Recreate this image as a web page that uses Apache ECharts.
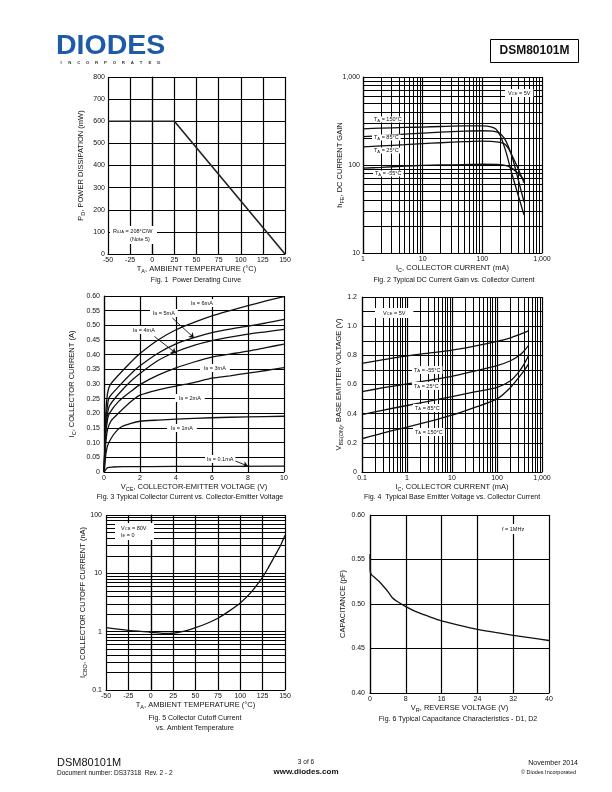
<!DOCTYPE html>
<html><head><meta charset="utf-8">
<script src="https://cdn.jsdelivr.net/npm/echarts@6/dist/echarts.min.js"></script>
<style>html,body{margin:0;padding:0;background:#fff}#c{width:612px;height:792px}</style>
</head><body><div id="c"></div>
<script>
// ---------------- DATA ----------------
// Fig. 1 Power derating
const fig1Temp = [-50, 25, 150];
const fig1Pd = [600, 600, 0];
// Fig. 2 hFE vs Ic  [Ic mA, hFE]
const hfe150 = [[1,258],[2,262],[5,267],[10,270],[20,274],[50,278],[100,278],[140,272],[170,255],[200,215],[250,140],[300,88],[400,45],[500,27]];
const hfe85 = [[1,210],[2,215],[5,224],[10,230],[20,236],[50,242],[100,245],[150,242],[190,232],[230,205],[270,165],[320,120],[400,68],[500,38]];
const hfe25 = [[1,161],[2,165],[5,170],[10,175],[20,179],[50,184],[100,187],[200,181],[240,172],[280,150],[330,120],[400,90],[500,63]];
const hfeM55 = [[1,92],[2,94],[5,97],[10,99],[20,100],[50,101],[100,102],[200,101],[260,98],[320,91],[400,80],[500,68]];
// Fig. 3 Ic vs Vce  [V, A]
const ib6 = [[0,0],[0.05,0.1],[0.1,0.2],[0.2,0.27],[0.35,0.298],[0.8,0.33],[1.5,0.375],[2,0.404],[3,0.45],[4,0.485],[5,0.51],[6,0.532],[7,0.55],[8,0.567],[9,0.583],[10,0.598]];
const ib5 = [[0,0],[0.05,0.09],[0.1,0.17],[0.2,0.23],[0.3,0.255],[0.8,0.29],[1.5,0.335],[2,0.362],[3,0.405],[4,0.437],[5,0.458],[6,0.475],[7,0.487],[8,0.497],[9,0.508],[10,0.52]];
const ib4 = [[0,0],[0.05,0.08],[0.1,0.15],[0.2,0.2],[0.3,0.225],[0.8,0.265],[1.5,0.31],[2,0.336],[3,0.38],[4,0.41],[5,0.432],[6,0.448],[7,0.46],[8,0.47],[9,0.478],[10,0.486]];
const ib3 = [[0,0],[0.05,0.07],[0.1,0.13],[0.2,0.18],[0.3,0.2],[0.8,0.24],[1.5,0.275],[2,0.298],[3,0.33],[4,0.355],[5,0.375],[6,0.392],[7,0.402],[8,0.412],[9,0.424],[10,0.436]];
const ib2 = [[0,0],[0.05,0.05],[0.1,0.1],[0.2,0.145],[0.4,0.175],[0.8,0.2],[1.5,0.24],[2,0.262],[3,0.28],[4,0.293],[5,0.305],[6,0.32],[7,0.328],[8,0.337],[9,0.346],[10,0.356]];
const ib1 = [[0,0],[0.05,0.03],[0.1,0.06],[0.2,0.09],[0.4,0.115],[0.7,0.14],[1,0.155],[1.5,0.166],[2,0.173],[3,0.177],[4,0.18],[6,0.185],[8,0.188],[10,0.19]];
const ib01 = [[0,0],[0.1,0.008],[0.2,0.015],[0.5,0.017],[1,0.018],[4,0.019],[10,0.02]];
const fig3Arrows = [[[3.8,0.525],[5,0.457]], [[2.8,0.462],[4,0.405]], [[7.2,0.04],[8,0.02]]];
// Fig. 4 Vbe(on) vs Ic  [mA, V]
const vbeM55 = [[0.1,0.745],[0.3,0.77],[1,0.797],[3,0.815],[10,0.836],[30,0.862],[100,0.895],[200,0.92],[300,0.94],[500,0.968]];
const vbe25 = [[0.1,0.551],[0.3,0.578],[1,0.604],[3,0.628],[10,0.656],[30,0.69],[100,0.729],[200,0.763],[300,0.795],[400,0.83],[500,0.866]];
const vbe85 = [[0.1,0.394],[0.3,0.425],[1,0.456],[3,0.485],[10,0.517],[30,0.548],[100,0.581],[200,0.626],[300,0.683],[400,0.74],[500,0.797]];
const vbe150 = [[0.1,0.228],[0.3,0.268],[1,0.307],[3,0.345],[10,0.39],[30,0.44],[100,0.501],[200,0.58],[300,0.645],[400,0.695],[500,0.74]];
// Fig. 5 Icbo vs Ta  [degC, nA]
const icbo = [[-50,1.17],[-25,1.05],[0,0.975],[15,0.93],[25,0.94],[37.5,1.02],[50,1.17],[62.5,1.38],[75,1.7],[87.5,2.25],[100,3.1],[112.5,4.8],[125,8.6],[130,11.5],[137.5,18.5],[145,30],[150,45]];
// Fig. 6 Capacitance vs Vr  [V, pF]
const cap = [[0,0.556],[0.02,0.545],[0.05,0.537],[0.3,0.533],[1,0.53],[2,0.5255],[3,0.52],[4,0.514],[5,0.507],[6,0.503],[8,0.497],[10,0.492],[12,0.488],[14,0.4845],[16,0.481],[20,0.476],[24,0.4715],[28,0.468],[32,0.4648],[36,0.462],[40,0.459]];

// ---------------- STYLE ----------------
const F = '"Liberation Sans", Arial, Helvetica, sans-serif';
const C = '#111';
const grids = [
  {left:108, top:77, width:177, height:177},
  {left:363, top:77, width:179, height:176},
  {left:104, top:296, width:180, height:176},
  {left:362, top:297, width:180, height:175},
  {left:106, top:515, width:179, height:175},
  {left:370, top:515, width:179, height:178}
];
const gl = {show:true, lineStyle:{color:'#000', width:1.2}};
const subRich = {s:{fontSize:5.5, fontFamily:F, color:C, padding:[4,0,0,0]}};
function nameSt(){ return {fontSize:7.5, color:C, fontFamily:F, rich:subRich}; }
function logFmt(v){ const r = +(+v).toPrecision(4); return r >= 1000 ? '1,000' : String(r); }
function ax(o){
  return Object.assign({
    axisLine:{show:true, lineStyle:{color:'#000', width:1.2}},
    axisTick:{show:false},
    splitLine:gl,
    axisLabel:{fontSize:7, color:C, fontFamily:F, margin:3},
    nameLocation:'middle', nameMoveOverlap:false, nameTextStyle:nameSt()
  }, o);
}
function logAx(o){
  return ax(Object.assign({type:'log', logBase:10, minorTick:{show:false, splitNumber:9}, minorSplitLine:{show:true, lineStyle:{color:'#000', width:1}}}, o));
}
const xAxis = [
  ax({gridIndex:0, type:'value', min:-50, max:150, interval:25, name:'T{s|A}, AMBIENT TEMPERATURE (°C)', nameGap:10}),
  logAx({gridIndex:1, min:1, max:1000, axisLabel:{fontSize:7, color:C, fontFamily:F, margin:3, formatter:logFmt}, name:'I{s|C}, COLLECTOR CURRENT (mA)', nameGap:10}),
  ax({gridIndex:2, type:'value', min:0, max:10, interval:2, name:'V{s|CE}, COLLECTOR-EMITTER VOLTAGE (V)', nameGap:10}),
  logAx({gridIndex:3, min:0.1, max:1000, axisLabel:{fontSize:7, color:C, fontFamily:F, margin:3, formatter:logFmt}, name:'I{s|C}, COLLECTOR CURRENT (mA)', nameGap:10}),
  ax({gridIndex:4, type:'value', min:-50, max:150, interval:25, name:'T{s|A}, AMBIENT TEMPERATURE (°C)', nameGap:10}),
  ax({gridIndex:5, type:'value', min:0, max:40, interval:8, name:'V{s|R}, REVERSE VOLTAGE (V)', nameGap:10})
];
const yAxis = [
  ax({gridIndex:0, type:'value', min:0, max:800, interval:100, name:'P{s|D}, POWER DISSIPATION (mW)', nameGap:22}),
  logAx({gridIndex:1, min:10, max:1000, axisLabel:{fontSize:7, color:C, fontFamily:F, margin:3, formatter:logFmt}, name:'h{s|FE}, DC CURRENT GAIN', nameGap:18}),
  ax({gridIndex:2, type:'value', min:0, max:0.6, interval:0.05, axisLabel:{fontSize:7, color:C, fontFamily:F, margin:4, formatter:v=>v===0?'0':v.toFixed(2)}, name:'I{s|C}, COLLECTOR CURRENT (A)', nameGap:27}),
  ax({gridIndex:3, type:'value', min:0, max:1.2, interval:0.1, axisLabel:{fontSize:7, color:C, fontFamily:F, margin:5, formatter:v=>{const k=Math.round(v*10); return k%2? '' : (k===0?'0':(k/10).toFixed(1));}}, name:'V{s|BE(ON)}, BASE EMITTER VOLTAGE (V)', nameGap:18}),
  logAx({gridIndex:4, min:0.1, max:100, axisLabel:{fontSize:7, color:C, fontFamily:F, margin:4, formatter:logFmt}, name:'I{s|CBO}, COLLECTOR CUTOFF CURRENT (nA)', nameGap:18}),
  ax({gridIndex:5, type:'value', min:0.4, max:0.6, interval:0.05, axisLabel:{fontSize:7, color:C, fontFamily:F, margin:5, formatter:v=>v.toFixed(2)}, name:'CAPACITANCE (pF)', nameGap:23})
];
function line(i, data, extra){
  return Object.assign({type:'line', xAxisIndex:i, yAxisIndex:i, data:data, showSymbol:false, symbol:'none', smooth:0.25,
    lineStyle:{color:'#111', width:1.3}, silent:true, z:3}, extra||{});
}
const series = [
  line(0, fig1Temp.map((t,k)=>[t, fig1Pd[k]]), {smooth:false, lineStyle:{color:'#222', width:1.6}}),
  line(1, hfe150), line(1, hfe85), line(1, hfe25), line(1, hfeM55),
  line(2, ib6), line(2, ib5), line(2, ib4), line(2, ib3), line(2, ib2), line(2, ib1),
  line(2, ib01, {markLine:{silent:true, symbol:['none','arrow'], symbolSize:5, animation:false,
    lineStyle:{color:'#111', width:0.9, type:'solid'}, label:{show:false},
    data: fig3Arrows.map(a=>[{coord:a[0]},{coord:a[1]}])}}),
  line(3, vbeM55), line(3, vbe25), line(3, vbe85), line(3, vbe150),
  line(4, icbo),
  line(5, cap, {smooth:0.2})
];

// ---------------- ANNOTATIONS ----------------
function txt(x, y, text, size, opt){
  opt = opt || {};
  const st = {text:text, x:x, y:y, fontSize:size, fontFamily:F, fill:opt.fill||C, fontWeight:opt.weight||'normal',
    align:opt.align||'left', verticalAlign:'middle',
    rich:{s:{fontSize:size*0.75, fontFamily:F, fill:opt.fill||C, padding:[Math.round(size*0.45),0,0,0]}}};
  if (opt.bg) { st.backgroundColor = '#fff'; st.padding = opt.pad || [1,3]; }
  const e = {type:'text', z:20, style:st};
  if (opt.rot) { e.rotation = opt.rot; }
  return e;
}
const graphic = [];
// header
graphic.push({type:'text', z:20, style:{text:'DIODES', x:56, y:46, fontSize:28.5, fontWeight:'bold', fontFamily:F, fill:'#1d5ba8', align:'left', verticalAlign:'middle'}});
'INCORPORATED'.split('').forEach((ch,k)=>graphic.push(txt(61 + k*8.9, 62.5, ch, 4.3, {weight:'bold', fill:'#333', align:'center'})));
graphic.push({type:'rect', z:20, shape:{x:490.5, y:39.5, width:88, height:23}, style:{fill:'#fff', stroke:'#000', lineWidth:1}});
graphic.push(txt(534.5, 51, 'DSM80101M', 12, {weight:'bold', align:'center'}));
// captions
graphic.push(txt(196, 280, 'Fig. 1  Power Derating Curve', 7, {align:'center'}));
graphic.push(txt(454, 280, 'Fig. 2 Typical DC Current Gain vs. Collector Current', 7, {align:'center'}));
graphic.push(txt(190, 497, 'Fig. 3 Typical Collector Current vs. Collector-Emitter Voltage', 7, {align:'center'}));
graphic.push(txt(452, 497, 'Fig. 4  Typical Base Emitter Voltage vs. Collector Current', 7, {align:'center'}));
graphic.push(txt(195, 718, 'Fig. 5 Collector Cutoff Current', 7, {align:'center'}));
graphic.push(txt(195, 728, 'vs. Ambient Temperature', 7, {align:'center'}));
graphic.push(txt(458, 719, 'Fig. 6 Typical Capacitance Characteristics - D1, D2', 7, {align:'center'}));
// footer
graphic.push(txt(57, 763, 'DSM80101M', 11));
graphic.push(txt(57, 773, 'Document number: DS37318  Rev. 2 - 2', 6.5));
graphic.push(txt(306, 762.5, '3 of 6', 6.5, {align:'center'}));
graphic.push(txt(306, 772, 'www.diodes.com', 8, {align:'center', weight:'bold'}));
graphic.push(txt(578, 763, 'November 2014', 7, {align:'right'}));
graphic.push(txt(576, 772, '© Diodes Incorporated', 5.5, {align:'right'}));
// fig 1 note
graphic.push({type:'rect', z:19, shape:{x:110, y:226, width:47, height:18}, style:{fill:'#fff'}});
graphic.push(txt(113, 231, 'R{s|θJA} = 208°C/W', 5.5));
graphic.push(txt(140, 239.5, '(Note 5)', 5.5, {align:'center'}));
// fig 2 labels
graphic.push(txt(505, 93, 'V{s|CE} = 5V', 5.5, {bg:true}));
graphic.push(txt(372, 119.5, 'T{s|A} = 150°C', 5.5, {bg:true, pad:[0,2]}));
graphic.push(txt(372, 137.5, 'T{s|A} = 85°C', 5.5, {bg:true, pad:[0,2]}));
graphic.push(txt(372, 150.5, 'T{s|A} = 25°C', 5.5, {bg:true, pad:[0,2]}));
graphic.push(txt(373, 173.5, 'T{s|A} = -55°C', 5.5, {bg:true, pad:[0,2]}));
// fig 3 labels
graphic.push(txt(187, 303, 'I{s|B} = 6mA', 5.5, {bg:true, pad:[1,4]}));
graphic.push(txt(150, 313, 'I{s|B} = 5mA', 5.5, {bg:true, pad:[1,3]}));
graphic.push(txt(130, 330, 'I{s|B} = 4mA', 5.5, {bg:true, pad:[1,3]}));
graphic.push(txt(200, 368, 'I{s|B} = 3mA', 5.5, {bg:true, pad:[1,4]}));
graphic.push(txt(175, 398, 'I{s|B} = 2mA', 5.5, {bg:true, pad:[1,4]}));
graphic.push(txt(167, 428, 'I{s|B} = 1mA', 5.5, {bg:true, pad:[1,4]}));
graphic.push(txt(205, 459, 'I{s|B} = 0.1mA', 5.5, {bg:true, pad:[1,2]}));
// fig 4 labels
graphic.push(txt(375, 313, 'V{s|CE} = 5V', 5.5, {bg:true, pad:[2,8]}));
graphic.push(txt(412, 370, 'T{s|A} = -55°C', 5.5, {bg:true, pad:[1,2]}));
graphic.push(txt(412, 386, 'T{s|A} = 25°C', 5.5, {bg:true, pad:[1,2]}));
graphic.push(txt(413, 408, 'T{s|A} = 85°C', 5.5, {bg:true, pad:[1,2]}));
graphic.push(txt(413, 432, 'T{s|A} = 150°C', 5.5, {bg:true, pad:[1,2]}));
// fig 5 labels
graphic.push({type:'rect', z:19, shape:{x:115, y:523, width:39, height:17}, style:{fill:'#fff'}});
graphic.push(txt(121, 528, 'V{s|CB} = 80V', 5.5));
graphic.push(txt(121, 535, 'I{s|E} = 0', 5.5));
// fig 6 label
graphic.push(txt(498, 529, 'f = 1MHz', 5.5, {bg:true, pad:[2,4]}));

const chart = echarts.init(document.getElementById('c'), null, {renderer:'canvas'});
chart.setOption({
  animation:false,
  backgroundColor:'#fff',
  textStyle:{fontFamily:F},
  grid:grids.map(g=>Object.assign({show:false, containLabel:false}, g)),
  xAxis:xAxis, yAxis:yAxis, series:series, graphic:graphic
});
</script></body></html>
